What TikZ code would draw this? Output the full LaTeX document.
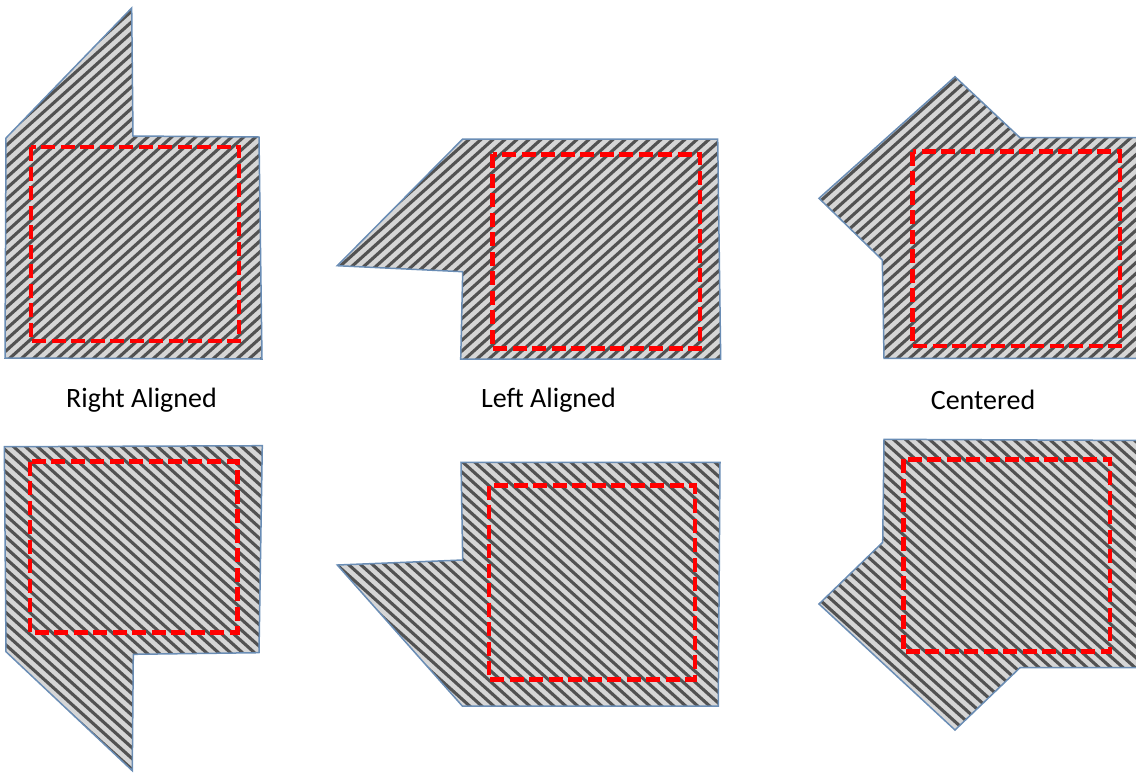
\documentclass[tikz,border=0pt]{standalone}
\usepackage{fontspec}
\setmainfont{Carlito}
\definecolor{edgeblue}{HTML}{6A8DB5}
\definecolor{hatchlight}{HTML}{D6D6D6}
\definecolor{hatchdark}{HTML}{525252}
\begin{document}
\begin{tikzpicture}[x=1pt,y=-1pt,
  polyA/.style={insert path={(131.7,8) -- (133,136) -- (259,137) -- (262,359) -- (5,358) -- (6,138) -- cycle}},
  polyB/.style={insert path={(462.7,139) -- (717.7,139) -- (720.7,359) -- (460.7,359) -- (462.7,271.7) -- (337.3,265.7) -- cycle}},
  polyC/.style={insert path={(955,76.7) -- (1020,137.7) -- (1150,137.5) -- (1150,358.5) -- (884,358.3) -- (882.3,260) -- (819,198.3) -- cycle}},
  polyD/.style={insert path={(4.3,446.7) -- (262.3,445.7) -- (259,652.7) -- (133.3,654.3) -- (132.3,770.7) -- (6,651.7) -- cycle}},
  polyE/.style={insert path={(461,462.3) -- (720,462.3) -- (718.3,706) -- (462.3,706) -- (337.3,565) -- (462.7,560) -- cycle}},
  polyF/.style={insert path={(884,439.3) -- (1150,440.5) -- (1150,667.5) -- (1020,667.7) -- (955,730) -- (819,604) -- (882.7,542.3) -- cycle}},
  outline/.style={draw=edgeblue, line width=1.5pt, line join=miter},
  stripe/.style={draw=hatchdark, line width=3.1pt},
  frame/.style={draw=red, line width=4.5pt, dash pattern=on 14pt off 5.5pt},
  caption/.style={font=\fontsize{28}{34}\selectfont, text=black}]
\useasboundingbox (0,0) rectangle (1136,772);
\clip (0,0) rectangle (1136,772);

% upper row: light fill with rising stripes
\begin{scope}
  \path[clip, polyA, polyB, polyC];
  \fill[hatchlight] (0,0) rectangle (1136,390);
  \foreach \a in {-440,-428,...,1140}
    \draw[stripe] (\a,385) -- ++(428,-385);
\end{scope}

% lower row: light fill with falling stripes
\begin{scope}
  \path[clip, polyD, polyE, polyF];
  \fill[hatchlight] (0,420) rectangle (1136,772);
  \foreach \a in {-400,-388,...,1140}
    \draw[stripe] (\a,420) -- ++(391,352);
\end{scope}

% outlines of the six shapes
\path[outline, polyA];
\path[outline, polyB];
\path[outline, polyC];
\path[outline, polyD];
\path[outline, polyE];
\path[outline, polyF];

% dashed red inner boxes
\draw[frame] (31,147) rectangle (239,341);
\draw[frame] (492.7,154.3) rectangle (700,348.7);
\draw[frame] (912.7,151.7) rectangle (1120,346);
\draw[frame] (30,461.7) rectangle (237.7,632.3);
\draw[frame] (489,485.7) rectangle (695,679.3);
\draw[frame] (903.3,459.3) rectangle (1110,651.7);

% captions
\node[caption] (capright) at (141.5,400) {Right Aligned};
\node[caption] (capleft) at (548.5,400) {Left Aligned};
\node[caption] (capcenter) at (983,400) {Centered};
\end{tikzpicture}
\end{document}
